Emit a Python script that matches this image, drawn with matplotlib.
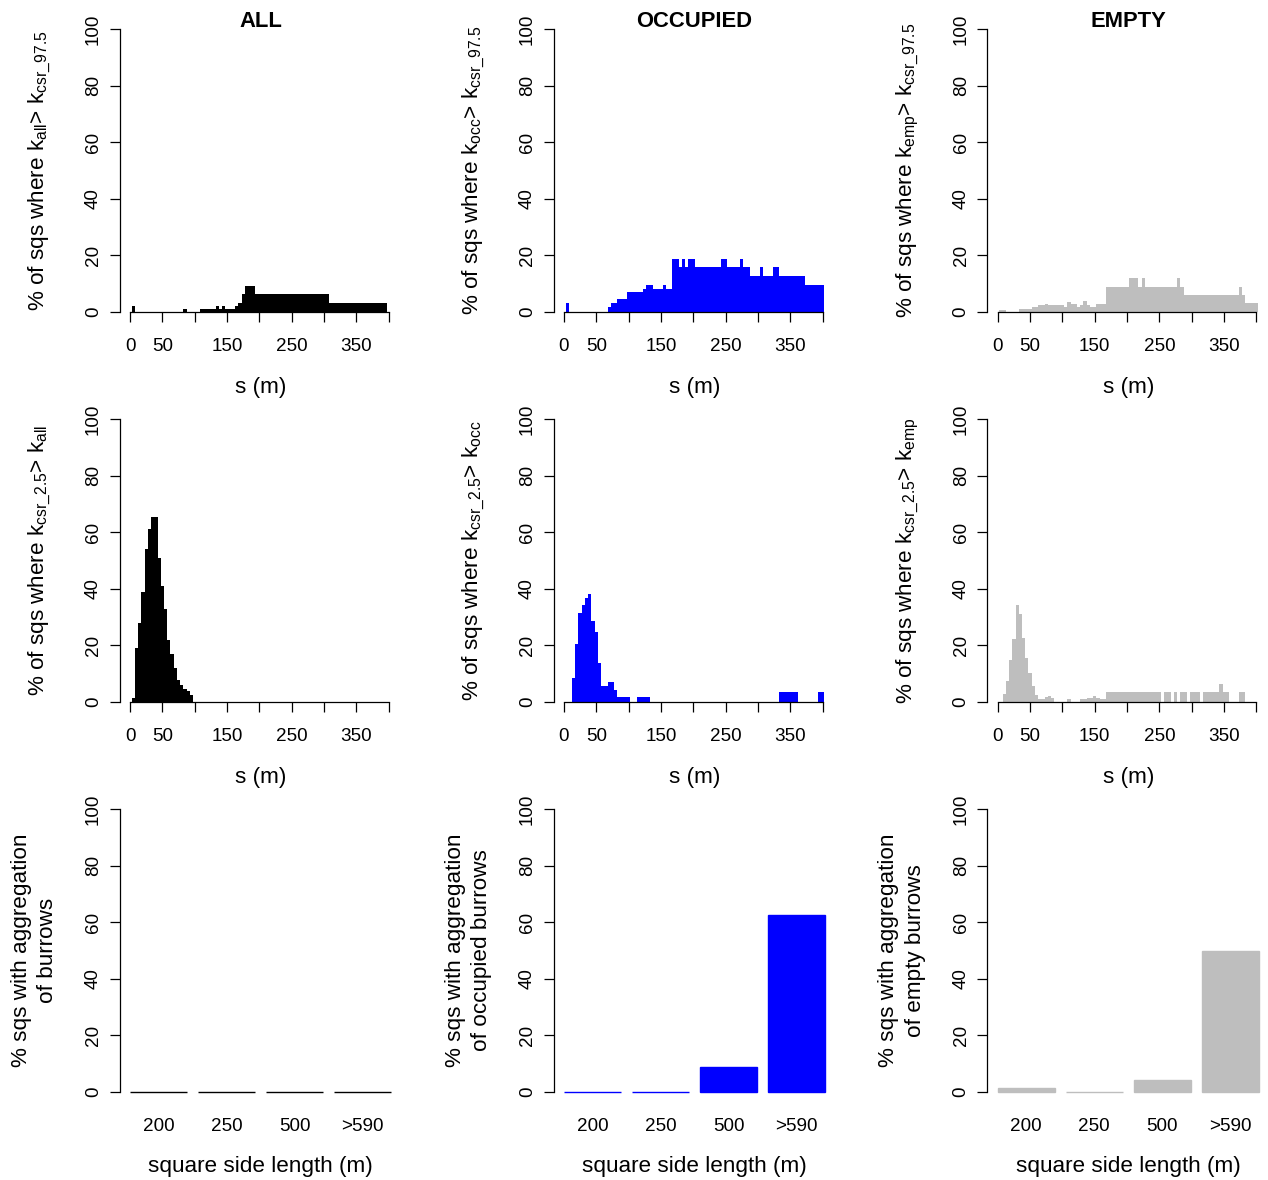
import matplotlib
matplotlib.use("Agg")
import matplotlib.pyplot as plt

plt.rcParams['font.family'] = ['Liberation Sans', 'DejaVu Sans']
plt.rcParams['mathtext.fontset'] = 'custom'
plt.rcParams['mathtext.rm'] = 'Liberation Sans'
plt.rcParams['mathtext.it'] = 'Liberation Sans:italic'
plt.rcParams['mathtext.bf'] = 'Liberation Sans:bold'

# ---------------- data ----------------
s_values = list(range(5, 405, 5))  # distance s (m), 80 bins

all_above = [2.1, 0, 0, 0, 0, 0, 0, 0, 0, 0,
             0, 0, 0, 0, 0, 0, 1.0, 0, 0, 0,
             0, 1.0, 1.0, 1.0, 1.0, 1.0, 2.1, 1.0, 2.1, 1.0,
             1.0, 1.0, 2.1, 3.1, 6.1, 9.1, 9.1, 9.1, 6.1, 6.1,
             6.1, 6.1, 6.1, 6.1, 6.1, 6.1, 6.1, 6.1, 6.1, 6.1,
             6.1, 6.1, 6.1, 6.1, 6.1, 6.1, 6.1, 6.1, 6.1, 6.1,
             6.1, 3.1, 3.1, 3.1, 3.1, 3.1, 3.1, 3.1, 3.1, 3.1,
             3.1, 3.1, 3.1, 3.1, 3.1, 3.1, 3.1, 3.1, 3.1, 0]

occ_above = [3.1, 0, 0, 0, 0, 0, 0, 0, 0, 0,
             0, 0, 0, 1.6, 3.1, 3.1, 4.5, 4.5, 4.5, 6.9,
             6.9, 6.9, 6.9, 6.9, 8.2, 9.6, 9.6, 8.2, 8.2, 8.2,
             9.6, 8.2, 8.2, 18.7, 18.7, 15.8, 18.7, 15.8, 18.7, 18.7,
             15.8, 15.8, 15.8, 15.8, 15.8, 15.8, 15.8, 15.8, 18.7, 18.7,
             15.8, 15.8, 15.8, 15.8, 18.7, 15.8, 15.8, 12.6, 12.6, 12.6,
             15.8, 12.6, 12.6, 12.6, 15.8, 15.8, 12.6, 12.6, 12.6, 12.6,
             12.6, 12.6, 12.6, 12.6, 9.6, 9.6, 9.6, 9.6, 9.6, 9.6]

emp_above = [0.5, 0.5, 0, 0, 0, 0, 1.1, 1.1, 1.1, 1.1,
             1.7, 1.7, 2.2, 2.2, 2.8, 2.2, 2.2, 2.2, 2.2, 2.2,
             1.7, 3.4, 2.8, 2.8, 1.7, 2.2, 3.9, 2.2, 1.7, 1.7,
             2.8, 2.8, 2.8, 8.9, 8.9, 8.9, 8.9, 8.9, 8.9, 8.9,
             11.9, 11.9, 11.9, 8.9, 11.9, 8.9, 8.9, 8.9, 8.9, 8.9,
             8.9, 8.9, 8.9, 8.9, 8.9, 11.9, 8.9, 6.0, 6.0, 6.0,
             6.0, 6.0, 6.0, 6.0, 6.0, 6.0, 6.0, 6.0, 6.0, 6.0,
             6.0, 6.0, 6.0, 6.0, 8.9, 6.0, 3.1, 3.1, 3.1, 3.1]

all_below = [1.3, 19, 28, 39, 54, 61, 65.5, 65.5, 51, 41,
             33, 22, 17, 12, 7.8, 6, 4.5, 3.7, 2.5, 0,
             0, 0, 0, 0, 0, 0, 0, 0, 0, 0,
             0, 0, 0, 0, 0, 0, 0, 0, 0, 0,
             0, 0, 0, 0, 0, 0, 0, 0, 0, 0,
             0, 0, 0, 0, 0, 0, 0, 0, 0, 0,
             0, 0, 0, 0, 0, 0, 0, 0, 0, 0,
             0, 0, 0, 0, 0, 0, 0, 0, 0, 0]

occ_below = [0, 0, 8.4, 20.6, 31.4, 34.3, 36.8, 38.2, 28.7, 24.7,
             13.7, 5.7, 5.7, 7.1, 7.1, 4.3, 1.7, 1.7, 1.7, 1.7,
             0, 0, 1.7, 1.7, 1.7, 1.7, 0, 0, 0, 0,
             0, 0, 0, 0, 0, 0, 0, 0, 0, 0,
             0, 0, 0, 0, 0, 0, 0, 0, 0, 0,
             0, 0, 0, 0, 0, 0, 0, 0, 0, 0,
             0, 0, 0, 0, 0, 0, 3.4, 3.4, 3.4, 3.4,
             3.4, 3.4, 0, 0, 0, 0, 0, 0, 3.4, 3.4]

emp_below = [0, 2.7, 7.2, 14.7, 22.2, 34.4, 30.9, 22.6, 15.5, 10.2,
             5.4, 2.5, 1.0, 1.0, 1.5, 2.1, 1.3, 0, 0, 0,
             0, 0.8, 0, 0, 0, 0.9, 0.9, 1.2, 1.2, 1.9,
             1.3, 0.9, 0.9, 3.4, 3.4, 3.4, 3.4, 3.4, 3.4, 3.4,
             3.4, 3.4, 3.4, 3.4, 3.4, 3.4, 3.4, 3.4, 3.4, 3.4,
             0, 3.4, 3.4, 0, 3.4, 0, 3.4, 3.4, 0, 3.4,
             3.4, 3.4, 0, 3.4, 3.4, 3.4, 3.4, 3.4, 6.4, 3.4,
             3.4, 0, 0, 0, 3.4, 3.4, 0, 0, 0, 0]

square_sides = ["200", "250", "500", ">590"]
all_agg = [0, 0, 0, 0]
occ_agg = [0, 0, 8.6, 62.5]
emp_agg = [1.2, 0, 4.3, 50]

titles = ["ALL", "OCCUPIED", "EMPTY"]
colors = ["black", "#0000FF", "#BEBEBE"]
top_ylabels = [r"% of sqs where k$_{\mathrm{all}}$> k$_{\mathrm{csr\_97.5}}$",
               r"% of sqs where k$_{\mathrm{occ}}$> k$_{\mathrm{csr\_97.5}}$",
               r"% of sqs where k$_{\mathrm{emp}}$> k$_{\mathrm{csr\_97.5}}$"]
mid_ylabels = [r"% of sqs where k$_{\mathrm{csr\_2.5}}$> k$_{\mathrm{all}}$",
               r"% of sqs where k$_{\mathrm{csr\_2.5}}$> k$_{\mathrm{occ}}$",
               r"% of sqs where k$_{\mathrm{csr\_2.5}}$> k$_{\mathrm{emp}}$"]
bot_ylabels = [("% sqs with aggregation", "of burrows"),
               ("% sqs with aggregation", "of occupied burrows"),
               ("% sqs with aggregation", "of empty burrows")]

# ---------------- layout ----------------
W, H = 1268, 1180
fig = plt.figure(figsize=(W / 100, H / 100), dpi=100)

col_left = [119.6, 553.5, 987.3]
row_top = [29.4, 419.4, 809.4]
AW, AH = 282.0, 282.3

TICK = 13.6
LAB = 16.2


def add_ax(c, r):
    l = col_left[c]
    t = row_top[r]
    return fig.add_axes([l / W, 1 - (t + AH) / H, AW / W, AH / H])


def ftxt(x, y, s, **kw):
    fig.text(x / W, 1 - y / H, s, **kw)


def style_y(ax):
    ax.set_ylim(0, 100)
    ax.spines['top'].set_visible(False)
    ax.spines['right'].set_visible(False)
    ax.spines['left'].set_bounds(0, 100)
    ax.spines['left'].set_linewidth(0.9)
    ax.set_yticks([0, 20, 40, 60, 80, 100])
    ax.set_yticklabels(["0", "20", "40", "60", "80", "100"], rotation=90, va='center')
    ax.tick_params(axis='y', direction='out', length=7.2, width=0.9,
                   labelsize=TICK, pad=5.5)


hist_sets = [(all_above, occ_above, emp_above), (all_below, occ_below, emp_below)]
for r in range(2):
    for c in range(3):
        ax = add_ax(c, r)
        ax.bar(s_values, hist_sets[r][c], width=5, color=colors[c],
               linewidth=0, align='center')
        ax.set_xlim(-16.15, 419.85)
        style_y(ax)
        ax.spines['bottom'].set_bounds(0, 400)
        ax.spines['bottom'].set_linewidth(0.9)
        ax.spines['bottom'].set_zorder(5)
        ax.set_xticks(list(range(0, 401, 50)))
        ax.set_xticklabels(["0", "50", "", "150", "", "250", "", "350", ""])
        ax.tick_params(axis='x', direction='out', length=7.2, width=0.9,
                       labelsize=TICK, pad=12)
        cx = col_left[c] + AW / 2
        ftxt(cx, row_top[r] + AH + 81.5, "s (m)", ha='center', va='baseline',
             fontsize=LAB)
        lab = top_ylabels[c] if r == 0 else mid_ylabels[c]
        ftxt(col_left[c] - 75.3, row_top[r] + AH / 2, lab, rotation=90,
             rotation_mode='anchor', ha='center', va='baseline', fontsize=LAB)

for c in range(3):
    ftxt(col_left[c] + AW / 2, 26.7, titles[c], ha='center', va='baseline',
         fontsize=15.8, fontweight='bold')

bar_sets = [all_agg, occ_agg, emp_agg]
bar_pos = [0.7, 1.9, 3.1, 4.3]
for c in range(3):
    ax = add_ax(c, 2)
    ax.bar(bar_pos, bar_sets[c], width=1, color=colors[c], edgecolor=colors[c],
           linewidth=1.0, clip_on=False)
    ax.set_xlim(0.016, 4.984)
    style_y(ax)
    ax.spines['bottom'].set_visible(False)
    ax.set_xticks(bar_pos)
    ax.set_xticklabels(square_sides)
    ax.tick_params(axis='x', length=0, labelsize=TICK, pad=19)
    cx = col_left[c] + AW / 2
    ftxt(cx, row_top[2] + AH + 80.5, "square side length (m)", ha='center',
         va='baseline', fontsize=LAB)
    l1, l2 = bot_ylabels[c]
    ftxt(col_left[c] - 93.0, row_top[2] + AH / 2, l1, rotation=90,
         rotation_mode='anchor', ha='center', va='baseline', fontsize=LAB)
    ftxt(col_left[c] - 66.5, row_top[2] + AH / 2, l2, rotation=90,
         rotation_mode='anchor', ha='center', va='baseline', fontsize=LAB)

fig.savefig("out.png", dpi=100)
